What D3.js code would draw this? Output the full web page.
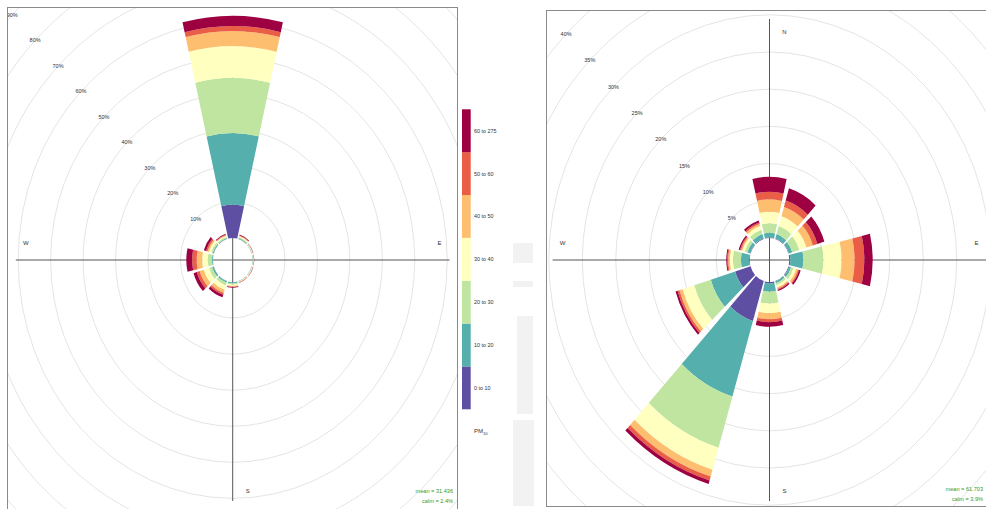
<!DOCTYPE html>
<html>
<head>
<meta charset="utf-8">
<script src="https://cdn.jsdelivr.net/npm/d3@7"></script>
<style>
  html, body { margin: 0; padding: 0; background: #fff; }
  svg { display: block; font-family: "Liberation Sans", Arial, sans-serif; }
</style>
</head>
<body>
<svg id="chart" width="986" height="509"></svg>
<script>
// Wind sectors (degrees, clockwise from north)
const directions = [0, 30, 60, 90, 120, 150, 180, 210, 240, 270, 300, 330];

// PM10 concentration bands, lowest first
const bandLabels = ["0 to 10", "10 to 20", "20 to 30", "30 to 40", "40 to 50", "50 to 60", "60 to 275"];
const bandColours = ["#5E4FA2", "#55AFAD", "#BFE5A0", "#FFFFBF", "#FDBF6F", "#EA5D47", "#9E0142"];

// Site A: frequency (%) of each band in each sector (rows = bands, columns = sectors)
const siteABands = [
  [9.2, 0.05, 0.02, 0.02, 0.02, 0.02, 0.05, 0.05, 0.05, 0.05, 0.05, 0.05],
  [19.9, 0.25, 0.10, 0.10, 0.10, 0.10, 0.30, 0.40, 0.50, 0.25, 0.30, 0.25],
  [15.3, 0.25, 0.12, 0.12, 0.12, 0.12, 0.40, 0.80, 1.00, 1.30, 0.50, 0.30],
  [8.8, 0.25, 0.12, 0.12, 0.12, 0.12, 0.35, 1.30, 1.70, 1.70, 0.70, 0.30],
  [4.2, 0.15, 0.08, 0.08, 0.08, 0.08, 0.20, 0.90, 1.30, 1.70, 0.50, 0.20],
  [1.4, 0.10, 0.04, 0.04, 0.04, 0.04, 0.10, 0.50, 0.90, 1.40, 0.45, 0.15],
  [2.8, 0.20, 0.07, 0.07, 0.07, 0.07, 0.20, 0.75, 1.05, 1.80, 0.70, 0.25]
];
const siteAMean = "31.436";
const siteACalm = "2.4%";

// Site B
const siteBBands = [
  [0.05, 0.05, 0.05, 0.15, 0.10, 0.05, 0.18, 5.6, 2.4, 0.10, 0.05, 0.10],
  [0.66, 0.65, 0.55, 1.95, 0.30, 0.25, 1.12, 10.6, 3.8, 1.20, 0.45, 0.60],
  [1.27, 1.10, 1.10, 3.00, 0.40, 0.30, 1.60, 7.2, 2.6, 1.20, 0.40, 0.60],
  [1.55, 1.40, 1.10, 2.70, 0.40, 0.30, 1.30, 3.1, 1.8, 0.45, 0.40, 0.50],
  [1.67, 1.30, 1.00, 1.95, 0.30, 0.20, 0.80, 0.95, 0.5, 0.25, 0.20, 0.30],
  [1.02, 0.90, 0.70, 1.45, 0.15, 0.15, 0.40, 0.55, 0.3, 0.15, 0.15, 0.20],
  [2.02, 1.70, 1.10, 1.25, 0.25, 0.15, 0.60, 0.50, 0.3, 0.15, 0.20, 0.30]
];
const siteBMean = "61.703";
const siteBCalm = "3.9%";

const svg = d3.select("#chart");
const defs = svg.append("defs");
const HALF_WIDTH = 13.2;          // half angular width of each sector wedge (deg)
const AXIS_HALF = 241;            // half length of the N-S / E-W axis lines (px)
const rad = d => d * Math.PI / 180;

// faint background marks behind the key
const backdrop = svg.append("g").attr("fill", "#f2f2f2");
[[513, 243, 20, 20], [513, 281, 20, 6], [517, 316, 16, 98], [513, 420, 21, 86]].forEach(([x, y, w, h]) =>
  backdrop.append("rect").attr("x", x).attr("y", y).attr("width", w).attr("height", h));

function drawRose(cfg) {
  const { id, box, cx, cy, kx, offset, pxPerPct, ringStep, ringMax, bands, mean, calm } = cfg;

  defs.append("clipPath").attr("id", "clip-" + id)
    .append("rect").attr("x", box.x0).attr("y", box.y0)
    .attr("width", box.x1 - box.x0).attr("height", box.y1 - box.y0);

  const panel = svg.append("g");
  const inner = panel.append("g").attr("clip-path", `url(#clip-${id})`);
  const polar = `translate(${cx},${cy}) scale(${kx},1)`;
  const gridLayer = inner.append("g").attr("transform", polar);
  const textLayer = inner.append("g");
  const barLayer = inner.append("g").attr("transform", polar);

  // radial scale: percentage -> radius (starts at the central hole)
  const r = d3.scaleLinear().domain([0, 1]).range([offset, offset + pxPerPct]);

  // rows for stacking
  const rows = directions.map((dir, i) => {
    const o = { dir };
    bandLabels.forEach((k, j) => { o[k] = bands[j][i]; });
    return o;
  });
  const series = d3.stack().keys(bandLabels)(rows);
  const L = AXIS_HALF;

  const rings = d3.range(ringStep, ringMax + 1e-9, ringStep);
  gridLayer.append("g").selectAll("circle").data(rings).join("circle")
    .attr("r", d => r(d))
    .attr("fill", "none")
    .attr("stroke", "#e4e4e4")
    .attr("stroke-width", 1)
    .attr("vector-effect", "non-scaling-stroke");

  // axis cross
  gridLayer.append("line").attr("x1", -L).attr("x2", L).attr("y1", 0).attr("y2", 0)
    .attr("stroke", "#555").attr("stroke-width", 1).attr("vector-effect", "non-scaling-stroke");
  gridLayer.append("line").attr("x1", 0).attr("x2", 0).attr("y1", -L).attr("y2", L)
    .attr("stroke", "#555").attr("stroke-width", 1).attr("vector-effect", "non-scaling-stroke");

  // ring labels along the north-west diagonal (only those inside the frame)
  const s45 = Math.SQRT1_2;
  const ringLabels = rings
    .map(d => ({ v: d, x: cx - r(d) * s45 * kx, y: cy - r(d) * s45 }))
    .filter(d => d.x > box.x0 + 3 && d.y > box.y0 + 3);
  textLayer.append("g").selectAll("text").data(ringLabels).join("text")
    .attr("x", d => d.x)
    .attr("y", d => d.y)
    .attr("text-anchor", "middle")
    .attr("dominant-baseline", "central")
    .attr("font-size", 5.5)
    .attr("fill", "#333")
    .text(d => d.v + "%");

  // compass labels
  const compass = [
    { t: "N", x: cx + 15, y: cy - L + 13 },
    { t: "E", x: cx + L * kx - 10, y: cy - 17 },
    { t: "S", x: cx + 15, y: cy + L - 10 },
    { t: "W", x: cx - L * kx + 10, y: cy - 17 }
  ];
  textLayer.append("g").selectAll("text").data(compass).join("text")
    .attr("x", d => d.x).attr("y", d => d.y)
    .attr("text-anchor", "middle").attr("dominant-baseline", "central")
    .attr("font-size", 6).attr("fill", "#333")
    .text(d => d.t);

  // stacked wedges
  const arc = d3.arc();
  series.forEach((layer, j) => {
    barLayer.append("g").selectAll("path").data(layer).join("path")
      .attr("fill", bandColours[j])
      .attr("d", d => arc({
        innerRadius: r(d[0]),
        outerRadius: r(d[1]),
        startAngle: rad(d.data.dir - HALF_WIDTH),
        endAngle: rad(d.data.dir + HALF_WIDTH)
      }));
  });

  // mean / calm annotation
  const note = inner.append("g").attr("font-size", 5.6).attr("fill", "#2e9a2e").attr("text-anchor", "end");
  note.append("text").attr("x", cfg.noteX).attr("y", cfg.noteY).text("mean = " + mean);
  note.append("text").attr("x", cfg.noteX).attr("y", cfg.noteY + 10).text("calm = " + calm);

  // panel frame
  panel.append("rect").attr("x", box.x0).attr("y", box.y0)
    .attr("width", box.x1 - box.x0).attr("height", box.y1 - box.y0)
    .attr("fill", "none").attr("stroke", "#8a8a8a").attr("stroke-width", 1);
}

drawRose({
  id: "a", box: { x0: 7.5, y0: 7.5, x1: 457.5, y1: 520 },
  cx: 232.7, cy: 260, kx: 0.9, offset: 22, pxPerPct: 3.606,
  ringStep: 10, ringMax: 100, bands: siteABands,
  mean: siteAMean, calm: siteACalm, noteX: 453, noteY: 492.5
});

drawRose({
  id: "b", box: { x0: 546.5, y0: 10.5, x1: 990, y1: 506.5 },
  cx: 769.5, cy: 260, kx: 0.9, offset: 22, pxPerPct: 7.44,
  ringStep: 5, ringMax: 50, bands: siteBBands,
  mean: siteBMean, calm: siteBCalm, noteX: 983, noteY: 491
});

// colour key
const key = svg.append("g");
const keyY = d3.scaleBand().domain(bandLabels).range([409.3, 109.3]).paddingInner(0);
key.selectAll("rect").data(bandLabels).join("rect")
  .attr("x", 462).attr("width", 8.7)
  .attr("y", d => keyY(d)).attr("height", keyY.bandwidth())
  .attr("fill", (d, i) => bandColours[i]);
key.selectAll("text").data(bandLabels).join("text")
  .attr("x", 474).attr("y", d => keyY(d) + keyY.bandwidth() / 2)
  .attr("dominant-baseline", "central")
  .attr("font-size", 5.4).attr("fill", "#333")
  .text(d => d);
const pm = key.append("text").attr("x", 474).attr("y", 433).attr("font-size", 6).attr("fill", "#333");
pm.append("tspan").text("PM");
pm.append("tspan").attr("font-size", 4.2).attr("dy", 1.8).text("10");
</script>
</body>
</html>
